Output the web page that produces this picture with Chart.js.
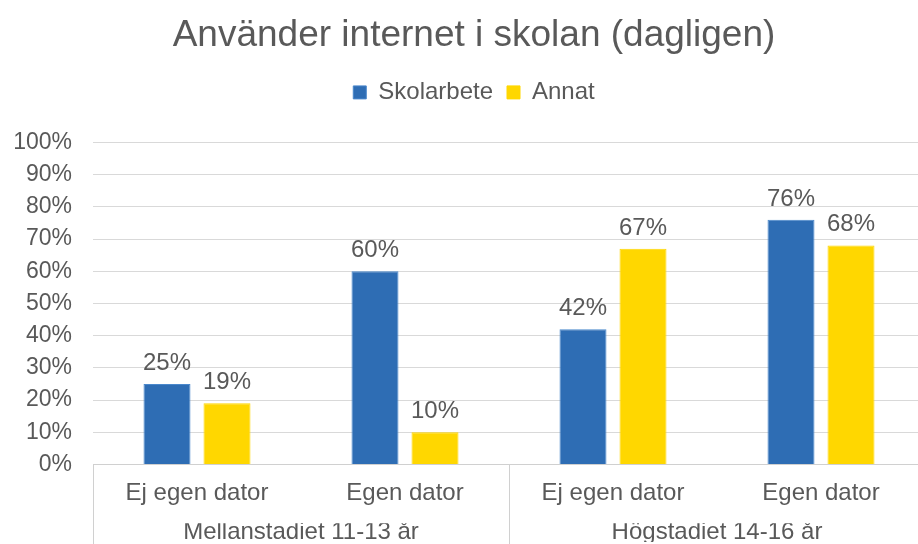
<!DOCTYPE html>
<html>
<head>
<meta charset="utf-8">
<script src="https://cdn.jsdelivr.net/npm/chart.js@4.4.1/dist/chart.umd.min.js"></script>
<style>
  html, body { margin: 0; padding: 0; background: #fff; overflow: hidden; }
</style>
</head>
<body>
<canvas id="myChart" width="948" height="544"></canvas>
<script>
const categories = ["Ej egen dator", "Egen dator", "Ej egen dator", "Egen dator"];
const groups = ["Mellanstadiet 11-13 år", "Högstadiet 14-16 år"];
const groupSizes = [2, 2];
const skolarbete = [25, 60, 42, 76];
const annat = [19, 10, 67, 68];

const textColor = "#595959";
const font = "'Liberation Sans', Arial, sans-serif";

// value labels above the bars
const valueLabels = {
  id: "valueLabels",
  afterDatasetsDraw(chart) {
    const ctx = chart.ctx;
    ctx.save();
    ctx.font = "24px " + font;
    ctx.fillStyle = textColor;
    ctx.textAlign = "center";
    ctx.textBaseline = "alphabetic";
    chart.data.datasets.forEach((ds, i) => {
      chart.getDatasetMeta(i).data.forEach((bar, j) => {
        ctx.fillText(ds.data[j] + "%", bar.x, bar.y - 14);
      });
    });
    ctx.restore();
  }
};

// vertical separators between the label groups
const groupLines = {
  id: "groupLines",
  afterDraw(chart) {
    const x = chart.scales.x;
    const ctx = chart.ctx;
    const step = (x.right - x.left) / categories.length;
    const edges = [x.left];
    let n = 0;
    groupSizes.forEach(s => { n += s; edges.push(x.left + n * step); });
    ctx.save();
    ctx.strokeStyle = "#d0d0d0";
    ctx.lineWidth = 1;
    edges.forEach(px => {
      const p = Math.round(px) + 0.5;
      ctx.beginPath();
      ctx.moveTo(p, chart.chartArea.bottom);
      ctx.lineTo(p, chart.height);
      ctx.stroke();
    });
    ctx.restore();
  }
};

const legendSpace = {
  id: "legendSpace",
  beforeInit(chart) {
    const fit = chart.legend.fit;
    chart.legend.fit = function () {
      fit.bind(chart.legend)();
      this.height += 28;
    };
  }
};

const data = {
  labels: categories,
  datasets: [
    {
      label: "Skolarbete",
      backgroundColor: "#2E6DB4",
      borderColor: "#4A88CC",
      borderWidth: 1,
      data: skolarbete,
    },
    {
      label: "Annat",
      backgroundColor: "#FFD700",
      borderColor: "#FFD700",
      borderWidth: 1,
      data: annat,
    }
  ],
};

const config = {
  type: "bar",
  data: data,
  options: {
    responsive: false,
    animation: false,
    layout: { padding: { left: 0, right: 0, top: 0, bottom: 2 } },
    datasets: {
      bar: { categoryPercentage: 0.577, barPercentage: 0.783 }
    },
    plugins: {
      title: {
        display: true,
        text: "Använder internet i skolan (dagligen)",
        color: textColor,
        font: { family: font, size: 37, weight: "normal" },
        padding: { top: 14, bottom: 8 },
      },
      legend: {
        labels: {
          color: textColor,
          font: { family: font, size: 24 },
          boxWidth: 13,
          boxHeight: 13,
          padding: 14,
        }
      },
      tooltip: { enabled: false },
    },
    scales: {
      y: {
        min: 0,
        max: 100,
        afterFit(axis) { axis.width = 93; },
        ticks: {
          stepSize: 10,
          autoSkip: false,
          padding: 21,
          color: textColor,
          font: { family: font, size: 23 },
          callback: v => v + "%",
        },
        grid: { color: "#d9d9d9", drawTicks: false },
        border: { display: false },
      },
      // empty right margin
      yRight: {
        position: "right",
        min: 0,
        max: 100,
        afterFit(axis) { axis.width = 23; },
        ticks: { display: false },
        grid: { display: false, drawTicks: false },
        border: { display: false },
      },
      x: {
        weight: 0,
        grid: { display: false, drawTicks: false },
        border: { display: true, color: "#d0d0d0" },
        ticks: {
          padding: 15,
          color: textColor,
          font: { family: font, size: 24 },
          maxRotation: 0,
        },
      },
      x2: {
        type: "category",
        labels: groups,
        position: "bottom",
        weight: 1,
        offset: true,
        grid: { display: false, drawTicks: false },
        border: { display: false },
        ticks: {
          padding: -5,
          color: textColor,
          font: { family: font, size: 24 },
          maxRotation: 0,
        },
      },
    },
  },
  plugins: [valueLabels, groupLines, legendSpace],
};

const myChart = new Chart(document.getElementById("myChart"), config);
</script>
</body>
</html>
